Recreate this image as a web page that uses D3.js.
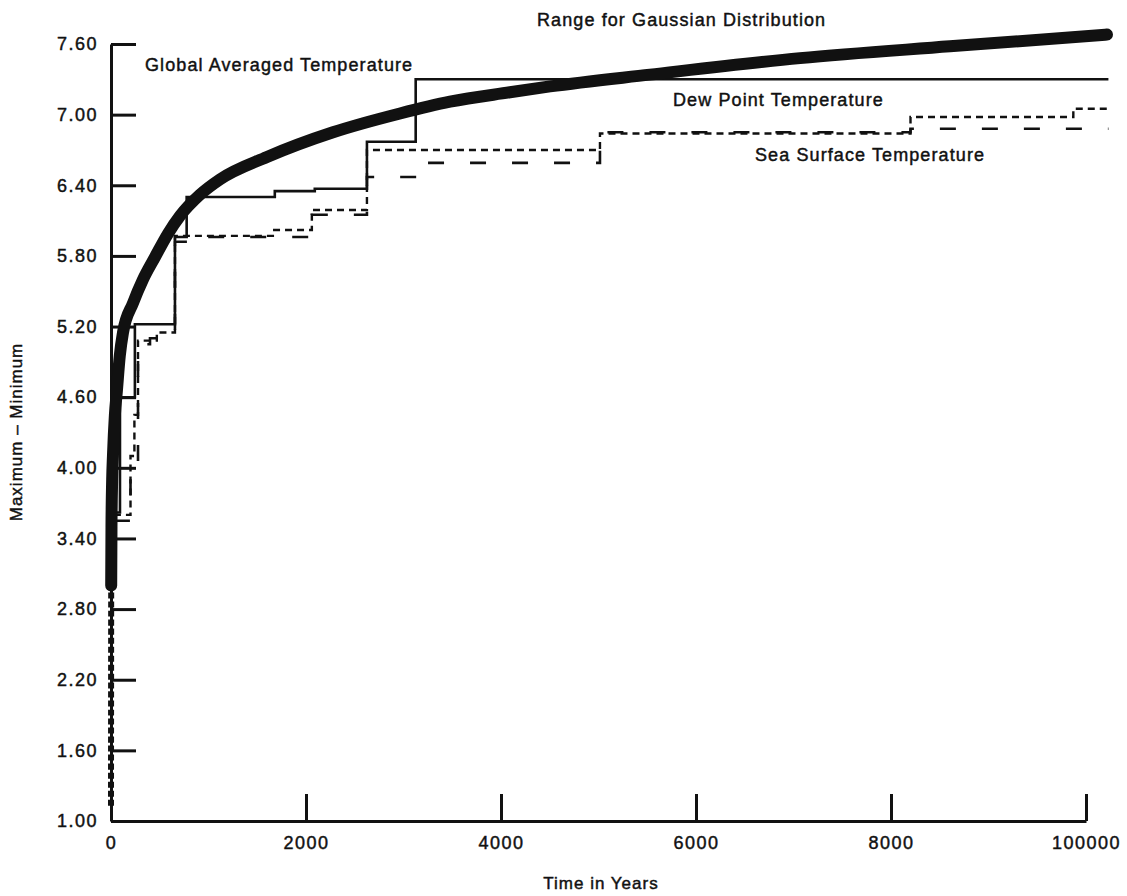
<!DOCTYPE html>
<html lang="en">
<head>
    <meta charset="UTF-8">
    <title>Range for Gaussian Distribution</title>
    <script src="https://cdn.jsdelivr.net/npm/d3@7/dist/d3.min.js"></script>
    <style>
        body { margin: 0; background: #fff; }
        svg text { font-family: "Liberation Sans", Arial, sans-serif; fill: #111; stroke: #111; stroke-width: 0.45px; }
    </style>
</head>
<body>
<svg width="1127" height="896" id="main"></svg>
<script>

    // thick curve (range for gaussian distribution)
    const gaussYears = [0, 1, 2, 5, 12, 20, 40, 60, 90, 123, 226, 328, 451, 585, 708, 913, 1118, 1600,
        2277, 2964, 3477, 4092, 4503, 5528, 7067, 8605, 10215];
    const gaussRange = [1.13, 2.2, 3.0, 3.5, 3.9, 4.1, 4.45, 4.65, 4.95, 5.15, 5.40, 5.60, 5.79, 5.99, 6.14, 6.32, 6.45, 6.64,
        6.85, 7.01, 7.11, 7.19, 7.24, 7.34, 7.48, 7.58, 7.68];

    // step series: value holds from each year to the next one
    const globalYears = [0, 30, 92, 245, 656, 776, 1680, 2090, 2625, 3125, 10230];
    const globalRange = [3.45, 3.62, 4.60, 5.22, 5.96, 6.30, 6.35, 6.37, 6.77, 7.30, 7.30];

    const dewYears = [30, 200, 240, 277, 470, 656, 1660, 2060, 2625, 5015, 8200, 9870, 10230];
    const dewRange = [3.60, 4.10, 4.45, 5.08, 5.15, 5.97, 6.02, 6.19, 6.70, 6.84, 6.98, 7.05, 7.05];

    const seaYears = [30, 200, 277, 400, 656, 780, 2060, 2625, 3140, 5015, 8200, 10230];
    const seaRange = [3.55, 4.05, 5.05, 5.10, 5.92, 5.96, 6.15, 6.47, 6.59, 6.85, 6.88, 6.88];

    const xTicks = [0, 2000, 4000, 6000, 8000, 10000];
    const xTickLabels = ["0", "2000", "4000", "6000", "8000", "100000"];
    const yTicks = [1.00, 1.60, 2.20, 2.80, 3.40, 4.00, 4.60, 5.20, 5.80, 6.40, 7.00, 7.60];

    draw();

    function pairs(xs, ys) {
        return xs.map((d, i) => [d, ys[i]]);
    }

    function draw() {
        let svg = d3.select('#main');
        let x = d3.scaleLinear().domain([0, 10000]).range([111, 1086]);
        let y = d3.scaleLinear().domain([1, 7.6]).range([821, 44]);

        let xAxis = g => g
            .attr("transform", `translate(0,${y(1)})`)
            .call(d3.axisBottom(x).tickValues(xTicks).tickFormat((d, i) => xTickLabels[i])
                .tickSizeInner(-27).tickSizeOuter(0).tickPadding(15));
        let yAxis = g => g
            .attr("transform", `translate(${x(0)},0)`)
            .call(d3.axisLeft(y).tickValues(yTicks).tickFormat(d3.format(".2f"))
                .tickSizeInner(-25).tickSizeOuter(0).tickPadding(13));

        svg.append("g").attr("class", "axis").call(xAxis);
        svg.append("g").attr("class", "axis").call(yAxis);
        svg.selectAll(".axis path, .axis line").attr("stroke", "#111").attr("stroke-width", 3);
        svg.selectAll(".axis text").attr("font-size", 18).attr("letter-spacing", 1.5)
            .attr("font-family", "Liberation Sans, Arial, sans-serif").attr("fill", "#111");

        let step = d3.line().x(d => x(d[0])).y(d => y(d[1])).curve(d3.curveStepAfter);
        let smooth = d3.line().x(d => x(d[0])).y(d => y(d[1])).curve(d3.curveMonotoneX);

        svg.append("path")
            .attr("d", step(pairs(seaYears, seaRange)))
            .attr("fill", "none").attr("stroke", "#111").attr("stroke-width", 2.6)
            .attr("stroke-dasharray", "16,26");
        svg.append("path")
            .attr("d", step(pairs(dewYears, dewRange)))
            .attr("fill", "none").attr("stroke", "#111").attr("stroke-width", 2.4)
            .attr("stroke-dasharray", "7,5");
        svg.append("path")
            .attr("d", step(pairs(globalYears, globalRange)))
            .attr("fill", "none").attr("stroke", "#111").attr("stroke-width", 2.6);

        let gauss = pairs(gaussYears, gaussRange);
        // lower part runs along the y axis, drawn thinner
        svg.append("path")
            .attr("d", smooth(gauss.filter(d => d[1] <= 3.5)))
            .attr("fill", "none").attr("stroke", "#111").attr("stroke-width", 6)
            .attr("stroke-dasharray", "6,3");
        svg.append("path")
            .attr("d", smooth(gauss.filter(d => d[1] >= 3.0)))
            .attr("fill", "none").attr("stroke", "#111").attr("stroke-width", 12)
            .attr("stroke-linecap", "round");

        let label = (px, py, txt) => svg.append("text")
            .attr("x", px).attr("y", py)
            .attr("font-size", 18).attr("letter-spacing", 1.1)
            .text(txt);
        label(537, 26, "Range for Gaussian Distribution");
        label(145, 71, "Global Averaged Temperature");
        label(673, 106, "Dew Point Temperature");
        label(755, 161, "Sea Surface Temperature");

        svg.append("text")
            .attr("x", 601).attr("y", 889)
            .attr("text-anchor", "middle")
            .attr("font-size", 17).attr("letter-spacing", 1)
            .text("Time in Years");
        svg.append("text")
            .attr("transform", "translate(22,432) rotate(-90)")
            .attr("text-anchor", "middle")
            .attr("font-size", 17).attr("letter-spacing", 1)
            .text("Maximum – Minimum");
    }
</script>
</body>
</html>
